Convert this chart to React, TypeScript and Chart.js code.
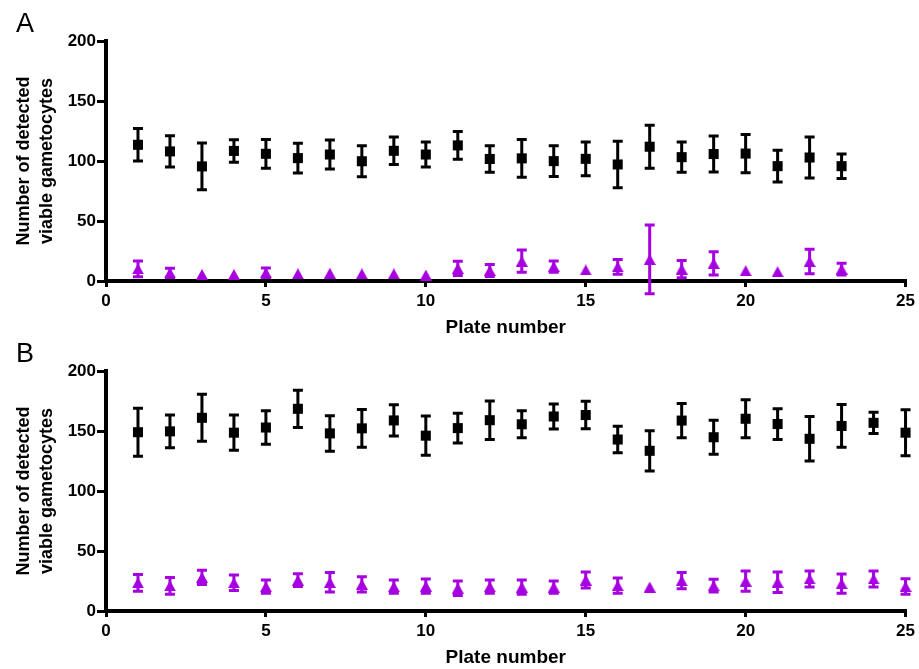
import React, { useEffect, useRef } from "react";
import { Chart, registerables } from "chart.js";

Chart.register(...registerables);

// ---------- data ----------
const platesA = [1, 2, 3, 4, 5, 6, 7, 8, 9, 10, 11, 12, 13, 14, 15, 16, 17, 18, 19, 20, 21, 22, 23];
const platesB = [1, 2, 3, 4, 5, 6, 7, 8, 9, 10, 11, 12, 13, 14, 15, 16, 17, 18, 19, 20, 21, 22, 23, 24, 25];

const blackMeanA = [113.5, 108, 95.5, 108.4, 106, 102.4, 105.4, 99.8, 108.5, 105.4, 113, 101.7, 102.2, 99.9, 101.8, 97.1, 111.9, 103.2, 105.8, 106.2, 95.7, 102.9, 95.7];
const blackErrA = [13.5, 13, 19.5, 9.4, 12, 12.4, 12.1, 13, 11.5, 10.4, 11.6, 11.1, 15.8, 12.9, 14, 19.3, 17.9, 12.6, 15, 15.9, 13.2, 17.1, 10.2];
const purpleMeanA = [10.1, 6.8, 5.5, 5.5, 6.9, 6, 6.5, 6, 6, 5, 10.5, 8.8, 16.5, 12, 9.2, 11.8, 18, 9.9, 14.7, 8.6, 7.8, 16.3, 9.9];
const purpleErrA = [6.5, 3.8, 0, 0, 3.9, 0, 0, 0, 0, 0, 6, 5, 9.3, 4.7, 0, 6.2, 28.7, 7.1, 9.7, 0, 0, 10.2, 4.9];

const blackMeanB = [149, 149.7, 161, 148.6, 152.9, 168.5, 148, 152.2, 158.8, 146.1, 152.4, 159, 155.6, 162.1, 163.3, 142.9, 133.5, 158.7, 144.8, 160.2, 155.8, 143.5, 154.2, 156.8, 148.6];
const blackErrB = [20, 13.7, 19.6, 14.7, 13.9, 15.5, 14.8, 15.8, 13, 16.4, 12.4, 16, 11.2, 10.4, 11.4, 11, 16.8, 14.3, 14.2, 15.8, 12.8, 18.5, 17.8, 8.8, 19.2];
const purpleMeanB = [23.5, 21, 28, 23.5, 20.3, 25.7, 23.9, 22.2, 20.3, 20.7, 19, 20.3, 19.9, 19.9, 25.8, 21.1, 20, 25.3, 21.1, 24.9, 24, 26.7, 22.8, 26.7, 20.4];
const purpleErrB = [7, 7, 6, 6.5, 5.6, 5.3, 8.1, 6.4, 5.6, 6, 6, 5.6, 5.9, 5.2, 6.7, 6.4, 0, 6.7, 5.3, 8.4, 8.5, 6.7, 8, 6.7, 6.4];

const xTickValues = [0, 5, 10, 15, 20, 25];
const yTickValues = [0, 50, 100, 150, 200];
const yTitleLines = ["Number of detected", "viable gametocytes"];
const xTitleText = "Plate number";

// ---------- styles ----------
const BLACK = "#000000";
const PURPLE = "#A600E0";
const FONT = "'Liberation Sans', Arial, Helvetica, sans-serif";
const CANVAS_W = 919;
const CANVAS_H = 339;

function makeTriangle(color: string) {
  const c = document.createElement("canvas");
  c.width = 12;
  c.height = 11;
  const g = c.getContext("2d");
  if (g) {
    g.fillStyle = color;
    g.beginPath();
    g.moveTo(6, 0);
    g.lineTo(12, 11);
    g.lineTo(0, 11);
    g.closePath();
    g.fill();
  }
  return c;
}

const errorBarPlugin = {
  id: "errorBars",
  beforeDatasetsDraw(chart: any) {
    const { ctx, scales } = chart;
    const xs = scales.x;
    const ys = scales.y;
    chart.data.datasets.forEach((ds: any) => {
      const errs: number[] = ds.errorValues || [];
      ctx.save();
      ctx.strokeStyle = ds.backgroundColor;
      ctx.lineWidth = 3;
      ctx.lineCap = "butt";
      ds.data.forEach((pt: any, j: number) => {
        const e = errs[j];
        if (!e) return;
        const px = xs.getPixelForValue(pt.x);
        const top = ys.getPixelForValue(pt.y + e);
        const bot = ys.getPixelForValue(pt.y - e);
        const half = 5;
        ctx.beginPath();
        ctx.moveTo(px, top);
        ctx.lineTo(px, bot);
        ctx.moveTo(px - half, top);
        ctx.lineTo(px + half, top);
        ctx.moveTo(px - half, bot);
        ctx.lineTo(px + half, bot);
        ctx.stroke();
      });
      ctx.restore();
    });
  },
};

type PanelProps = {
  letter: string;
  top: number;
  plates: number[];
  blackMean: number[];
  blackErr: number[];
  purpleMean: number[];
  purpleErr: number[];
};

function Panel({ letter, top, plates, blackMean, blackErr, purpleMean, purpleErr }: PanelProps) {
  const ref = useRef<HTMLCanvasElement | null>(null);

  useEffect(() => {
    if (!ref.current) return;
    const black = plates.map((p, i) => ({ x: p, y: blackMean[i] }));
    const purple = plates.map((p, i) => ({ x: p, y: purpleMean[i] }));
    const tri = makeTriangle(PURPLE);
    const chart = new Chart(ref.current, {
      type: "scatter",
      data: {
        datasets: [
          {
            label: "black",
            data: black,
            pointStyle: "rect",
            pointRadius: 7.1,
            pointHoverRadius: 7.1,
            backgroundColor: BLACK,
            borderColor: BLACK,
            borderWidth: 0,
            clip: false,
            errorValues: blackErr,
          } as any,
          {
            label: "purple",
            data: purple,
            pointStyle: tri,
            pointRadius: 6,
            pointHoverRadius: 6,
            backgroundColor: PURPLE,
            borderColor: PURPLE,
            borderWidth: 0,
            clip: false,
            errorValues: purpleErr,
          } as any,
        ],
      },
      options: {
        animation: false,
        responsive: false,
        events: [],
        layout: { padding: { top: 41, right: 12, bottom: 0, left: 0 } },
        plugins: { legend: { display: false }, tooltip: { enabled: false } },
        scales: {
          x: {
            type: "linear",
            min: 0,
            max: 25,
            afterBuildTicks: (s: any) => {
              s.ticks = xTickValues.map((v) => ({ value: v }));
            },
            afterFit: (s: any) => {
              s.height = CANVAS_H - 281;
            },
            border: { display: true, color: BLACK, width: 4 },
            grid: { drawOnChartArea: false, drawTicks: true, tickLength: 6, color: BLACK, lineWidth: 3 },
            ticks: {
              color: BLACK,
              padding: 4,
              maxRotation: 0,
              font: { family: FONT, size: 17, weight: "bold" },
            },
            title: {
              display: true,
              text: xTitleText,
              color: BLACK,
              padding: { top: 0, bottom: 1 },
              font: { family: FONT, size: 19, weight: "bold", lineHeight: 1.1 },
            },
          },
          y: {
            type: "linear",
            min: 0,
            max: 200,
            afterBuildTicks: (s: any) => {
              s.ticks = yTickValues.map((v) => ({ value: v }));
            },
            afterFit: (s: any) => {
              s.width = 106;
            },
            border: { display: true, color: BLACK, width: 4 },
            grid: { drawOnChartArea: false, drawTicks: true, tickLength: 9, color: BLACK, lineWidth: 3 },
            ticks: {
              color: BLACK,
              padding: 1,
              font: { family: FONT, size: 17, weight: "bold" },
            },
            title: {
              display: true,
              text: yTitleLines,
              color: BLACK,
              padding: { top: 13, bottom: 0 },
              font: { family: FONT, size: 18, weight: "bold", lineHeight: 1.25 },
            },
          },
        },
      },
      plugins: [errorBarPlugin],
    });
    return () => chart.destroy();
  }, [plates, blackMean, blackErr, purpleMean, purpleErr]);

  return (
    <div style={{ position: "absolute", left: 0, top, width: CANVAS_W, height: CANVAS_H }}>
      <canvas
        ref={ref}
        width={CANVAS_W}
        height={CANVAS_H}
        style={{ position: "absolute", left: 0, top: 0, width: CANVAS_W, height: CANVAS_H }}
      />
      <div
        style={{
          position: "absolute",
          left: 16,
          top: 10,
          fontFamily: FONT,
          fontSize: 27,
          lineHeight: "27px",
          color: BLACK,
        }}
      >
        {letter}
      </div>
    </div>
  );
}

export default function App() {
  return (
    <div
      style={{
        position: "absolute",
        left: 0,
        top: 0,
        width: 919,
        height: 669,
        background: "#ffffff",
        overflow: "hidden",
      }}
    >
      <Panel
        letter="A"
        top={0}
        plates={platesA}
        blackMean={blackMeanA}
        blackErr={blackErrA}
        purpleMean={purpleMeanA}
        purpleErr={purpleErrA}
      />
      <Panel
        letter="B"
        top={330}
        plates={platesB}
        blackMean={blackMeanB}
        blackErr={blackErrB}
        purpleMean={purpleMeanB}
        purpleErr={purpleErrB}
      />
    </div>
  );
}
